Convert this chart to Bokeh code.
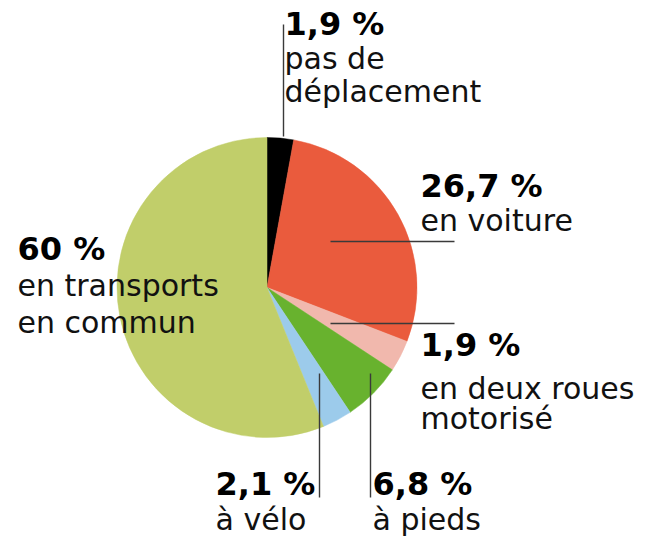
import math
from bokeh.plotting import figure
from bokeh.models import Range1d, ColumnDataSource
from bokeh.core.properties import value
from bokeh.embed import file_html
from bokeh.resources import INLINE

# ---- data -------------------------------------------------------------
categories = ["pas de déplacement", "en voiture", "en deux roues motorisé",
              "à pieds", "à vélo", "en transports en commun"]
percent_labels = ["1,9 %", "26,7 %", "1,9 %", "6,8 %", "2,1 %", "60 %"]
# slice shares as drawn in the reference picture (clockwise from 12 o'clock)
slice_shares = [2.85, 28.0, 3.4, 6.4, 3.2, 56.15]
desc_lines = [["pas de", "déplacement"], ["en voiture"], ["en deux roues", "motorisé"],
              ["à pieds"], ["à vélo"], ["en transports", "en commun"]]
colors = ["#000000", "#EA5B3D", "#F1B8AD", "#68B22E", "#9CCBEB", "#C1CE6A"]

# ---- layout (picture pixels) ------------------------------------------
W, H = 646, 539
def fx(px): return px
def fy(py): return H - py

cx, cy, R = fx(266.5), fy(287), 150
TEXT_SHIFT = 12  # renderer draws alphabetic baseline lower; compensate
# label anchor x, bold baseline, description baselines
label_pos = [(284, 35, [70, 103]), (420, 197, [232]), (420, 356, [400, 430]),
             (372, 495, [531]), (215, 495, [531]), (17, 260, [297, 334])]
leaders = [((283, 24), (283, 136)), ((330, 241), (454, 241)), ((330, 323), (454, 323)),
           ((370, 373), (370, 497)), ((319, 373), (319, 497)), None]

p = figure(width=W, height=H, output_backend="svg", toolbar_location=None,
           x_range=Range1d(0, W), y_range=Range1d(0, H), min_border=0)
p.axis.visible = False
p.grid.visible = False
p.outline_line_color = None
p.background_fill_color = "white"
p.border_fill_color = "white"

total = sum(slice_shares)
starts, ends = [], []
acc = 0.0
for s in slice_shares:
    a0 = math.pi / 2 - acc / total * 2 * math.pi
    acc += s
    a1 = math.pi / 2 - acc / total * 2 * math.pi
    starts.append(a0)
    ends.append(a1)

src = ColumnDataSource(dict(start=starts, end=ends, color=colors, cat=categories))
p.wedge(x=cx, y=cy, radius=R, radius_units="screen", start_angle="start", end_angle="end",
        direction="clock", fill_color="color", line_color="color", line_width=0.5, source=src)

# leader lines
for ld in leaders:
    if ld is None:
        continue
    (x0, y0), (x1, y1) = ld
    p.line([fx(x0), fx(x1)], [fy(y0), fy(y1)], line_color="#3a3a3a", line_width=1.4)

# labels
bx, by, bt = [], [], []
rx, ry, rt = [], [], []
for lab, lines, (lx, lb, dbs) in zip(percent_labels, desc_lines, label_pos):
    bx.append(fx(lx)); by.append(fy(lb - TEXT_SHIFT)); bt.append(lab)
    for line, db in zip(lines, dbs):
        rx.append(fx(lx)); ry.append(fy(db - TEXT_SHIFT)); rt.append(line)

p.text(x=bx, y=by, text=bt, text_font=value("DejaVu Sans"), text_font_style="bold",
       text_font_size="32px", text_color="#000000", text_align="left",
       text_baseline="alphabetic")
p.text(x=rx, y=ry, text=rt, text_font=value("DejaVu Sans"), text_font_style="normal",
       text_font_size="30px", text_color="#111111", text_align="left",
       text_baseline="alphabetic")

open("out.html", "w").write(file_html(p, INLINE))
